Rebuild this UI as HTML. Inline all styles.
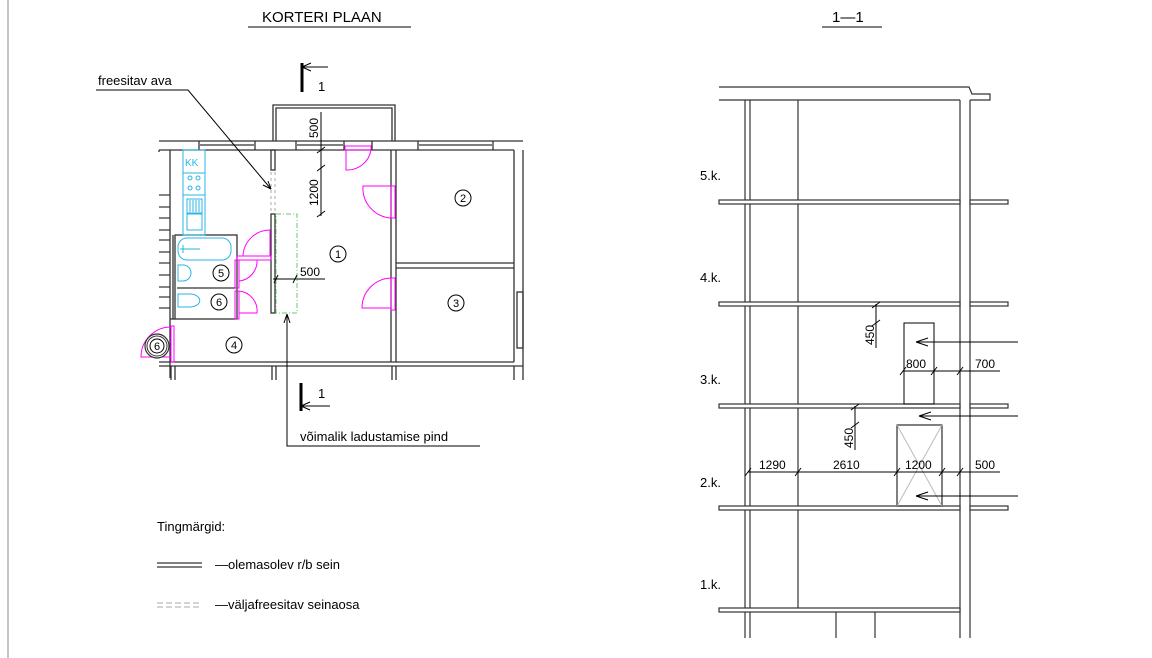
<!DOCTYPE html>
<html><head><meta charset="utf-8"><style>
html,body{margin:0;padding:0;background:#fff;}
svg{display:block;}
text{font-family:"Liberation Sans",sans-serif;fill:#000;}
</style></head><body>
<svg width="1152" height="658" viewBox="0 0 1152 658" xmlns="http://www.w3.org/2000/svg">
<rect width="1152" height="658" fill="#fff"/>
<line x1="8" y1="0" x2="8" y2="658" stroke="#888" stroke-width="1"/>

<!-- titles -->
<text x="262" y="22" font-size="15">KORTERI PLAAN</text>
<line x1="248" y1="27" x2="411" y2="27" stroke="#000"/>
<text x="832" y="22" font-size="15">1—1</text>
<line x1="822" y1="27" x2="882" y2="27" stroke="#000"/>

<!-- PLAN -->
<g stroke="#333" fill="none" stroke-width="1.3">
<path d="M273 141 V105 H395 V141"/><path d="M276 141 V108 H392 V141"/>
<line x1="159" y1="141" x2="523" y2="141"/>
<line x1="159" y1="150" x2="514" y2="150"/>
<line x1="199" y1="141" x2="199" y2="150"/><line x1="255" y1="141" x2="255" y2="150"/>
<line x1="296" y1="141" x2="296" y2="150"/><line x1="344" y1="141" x2="344" y2="150"/>
<line x1="372" y1="141" x2="372" y2="150"/><line x1="418" y1="141" x2="418" y2="150"/>
<line x1="493" y1="141" x2="493" y2="150"/>
<line x1="200" y1="145" x2="254" y2="145"/><line x1="297" y1="145" x2="343" y2="145"/><line x1="419" y1="145" x2="492" y2="145"/>
<line x1="170" y1="150" x2="170" y2="378"/>
<line x1="159" y1="150" x2="159" y2="152"/>
<line x1="159" y1="362" x2="514" y2="362"/>
<line x1="159" y1="366" x2="523" y2="366"/>
<line x1="171" y1="366" x2="171" y2="380"/><line x1="175" y1="366" x2="175" y2="380"/>
<line x1="272" y1="366" x2="272" y2="380"/><line x1="276" y1="366" x2="276" y2="380"/>
<line x1="392" y1="366" x2="392" y2="380"/><line x1="396" y1="366" x2="396" y2="380"/>
<line x1="514" y1="366" x2="514" y2="380"/><line x1="523" y1="150" x2="523" y2="380"/>
<line x1="391" y1="150" x2="391" y2="362"/><line x1="396" y1="150" x2="396" y2="362"/>
<line x1="514" y1="150" x2="514" y2="362"/>
<line x1="396" y1="263" x2="514" y2="263"/><line x1="396" y1="268" x2="514" y2="268"/>
<rect x="517" y="292" width="6" height="56"/>
<rect x="271" y="150" width="4" height="20"/>
<rect x="271" y="214" width="4" height="99"/>
<rect x="175" y="235" width="62" height="84"/>
<line x1="177" y1="288" x2="236" y2="288"/>
<line x1="170" y1="319" x2="175" y2="319"/>
<line x1="173" y1="235" x2="173" y2="319"/>
</g>
<g stroke="#333" stroke-width="1.2">
<line x1="159" y1="195" x2="170" y2="195"/><line x1="159" y1="207" x2="170" y2="207"/>
<line x1="159" y1="218" x2="170" y2="218"/><line x1="159" y1="230" x2="170" y2="230"/>
<line x1="159" y1="240" x2="170" y2="240"/><line x1="159" y1="252" x2="170" y2="252"/>
<line x1="159" y1="263" x2="170" y2="263"/><line x1="159" y1="275" x2="170" y2="275"/>
<line x1="159" y1="287" x2="170" y2="287"/><line x1="159" y1="297" x2="170" y2="297"/>
<line x1="159" y1="308" x2="170" y2="308"/>
</g>
<g stroke="#aaa" stroke-width="1" stroke-dasharray="3,3">
<line x1="271" y1="172" x2="271" y2="212"/><line x1="275" y1="172" x2="275" y2="212"/>
</g>
<rect x="276" y="214" width="21" height="99" fill="none" stroke="#6c6" stroke-width="1" stroke-dasharray="5,2,1,2"/>
<g stroke="#29b6e6" fill="none" stroke-width="1">
<rect x="183" y="150" width="22" height="85"/>
<line x1="183" y1="173" x2="205" y2="173"/><line x1="183" y1="195" x2="205" y2="195"/>
<circle cx="190" cy="178" r="2"/><circle cx="198" cy="178" r="2"/>
<circle cx="190" cy="188" r="2"/><circle cx="198" cy="188" r="2"/>
<rect x="187" y="199" width="15" height="14"/><rect x="187" y="214" width="15" height="16"/>
<line x1="190" y1="200" x2="190" y2="212"/><line x1="193" y1="200" x2="193" y2="212"/><line x1="196" y1="200" x2="196" y2="212"/><line x1="199" y1="200" x2="199" y2="212"/>
<rect x="178" y="238" width="53" height="22" rx="9"/>
<line x1="180" y1="249" x2="200" y2="249"/><line x1="183" y1="245" x2="183" y2="253"/>
<path d="M178 265 h5 a8 8 0 0 1 0 16 h-5 z"/>
<path d="M178 294 h12 a9 6 0 0 1 0 13 h-12 z"/>
</g>
<text x="185" y="166" font-size="10" style="fill:#29b6e6">KK</text>
<g stroke="#f0f" fill="none" stroke-width="1">
<rect x="345" y="146" width="26" height="4"/><path d="M346 150 V170 A24 24 0 0 0 371 150"/>
<rect x="391" y="186" width="4" height="32"/><path d="M391 186 H363 A30 30 0 0 0 391 218"/>
<rect x="391" y="278" width="4" height="32"/><path d="M391 278 A30 30 0 0 0 362 308 H391"/>
<rect x="237" y="256" width="34" height="4"/><path d="M270 256 V230 A27 27 0 0 0 243 256"/>
<rect x="235" y="260" width="4" height="28"/><path d="M239 260 H257 A20 20 0 0 1 239 281"/>
<rect x="235" y="291" width="4" height="28"/><path d="M239 291 A20 20 0 0 1 257 313 H239"/>
<rect x="171" y="326" width="3" height="36"/><path d="M171 327 A30 30 0 0 0 141 357 H171"/>
</g>
<circle cx="157" cy="346" r="12" fill="#fff" stroke="#333" stroke-width="1.2"/>
<circle cx="157" cy="346" r="10" fill="none" stroke="#333" stroke-width="1"/>
<g fill="none" stroke="#000" stroke-width="1">
<circle cx="338" cy="254" r="8"/><circle cx="463" cy="198" r="8"/><circle cx="456" cy="303" r="8"/>
<circle cx="234" cy="345" r="8"/><circle cx="221" cy="273" r="8"/><circle cx="219" cy="302" r="8"/>
<circle cx="157" cy="346" r="7"/>
</g>
<g font-size="11" text-anchor="middle">
<text x="338" y="258">1</text><text x="463" y="202">2</text><text x="456" y="307">3</text>
<text x="234" y="349">4</text><text x="221" y="277">5</text><text x="219" y="306">6</text><text x="157" y="350">6</text>
</g>
<g stroke="#000" stroke-width="1" fill="none">
<line x1="321" y1="112" x2="321" y2="216"/>
<line x1="317" y1="153" x2="325" y2="147"/><line x1="317" y1="171" x2="325" y2="165"/><line x1="317" y1="217" x2="325" y2="211"/>
<line x1="273" y1="279" x2="325" y2="279"/>
<line x1="274" y1="283" x2="278" y2="275"/><line x1="293" y1="283" x2="297" y2="275"/>
</g>
<text transform="translate(318,138) rotate(-90)" font-size="12">500</text>
<text transform="translate(318,206) rotate(-90)" font-size="12">1200</text>
<text x="300" y="276" font-size="12">500</text>
<g stroke="#000">
<line x1="302" y1="63" x2="302" y2="92" stroke-width="3"/>
<line x1="302" y1="67" x2="328" y2="67"/><path d="M302 67 L311 63 M302 67 L311 71" fill="none"/>
<line x1="301" y1="383" x2="301" y2="411" stroke-width="3"/>
<line x1="301" y1="406" x2="330" y2="406"/><path d="M301 406 L310 402 M301 406 L310 410" fill="none"/>
</g>
<text x="318" y="91" font-size="13">1</text>
<text x="318" y="398" font-size="13">1</text>
<text x="98" y="85" font-size="13">freesitav ava</text>
<g stroke="#000" fill="none">
<path d="M96 90 H188 L271 189"/><path d="M271 189 L263 185 M271 189 L268 181"/>
<path d="M480 446 H287 V314"/><path d="M287 314 L284 323 M287 314 L290 323"/>
</g>
<text x="300" y="441" font-size="13">võimalik ladustamise pind</text>
<text x="157" y="531" font-size="13">Tingmärgid:</text>
<line x1="157" y1="563" x2="202" y2="563" stroke="#000"/><line x1="157" y1="567" x2="202" y2="567" stroke="#000"/>
<text x="215" y="569" font-size="13">—olemasolev r/b sein</text>
<line x1="157" y1="603" x2="202" y2="603" stroke="#aaa" stroke-dasharray="6,3"/><line x1="157" y1="607" x2="202" y2="607" stroke="#aaa" stroke-dasharray="6,3"/>
<text x="215" y="609" font-size="13">—väljafreesitav seinaosa</text>

<!-- SECTION -->
<g stroke="#333" fill="none" stroke-width="1.2">
<path d="M719 87 H969 L972 94 H990 V100 H970"/><line x1="719" y1="100" x2="960" y2="100"/>
<line x1="745" y1="100" x2="745" y2="638"/><line x1="750" y1="100" x2="750" y2="638"/>
<line x1="798" y1="100" x2="798" y2="609"/>
<line x1="960" y1="100" x2="960" y2="638"/><line x1="970" y1="100" x2="970" y2="638"/>
<line x1="836" y1="612" x2="836" y2="638"/><line x1="875" y1="612" x2="875" y2="638"/>
</g>
<g stroke="#333" fill="#fff" stroke-width="1.2">
<rect x="719" y="200" width="241" height="4"/><rect x="970" y="200" width="38" height="4"/>
<rect x="719" y="302" width="241" height="4"/><rect x="970" y="302" width="38" height="4"/>
<rect x="719" y="404" width="241" height="4"/><rect x="970" y="404" width="38" height="4"/>
<rect x="719" y="506" width="241" height="4"/><rect x="970" y="506" width="38" height="4"/>
<rect x="719" y="608" width="241" height="4"/>
</g>
<g font-size="13"><text x="700" y="180">5.k.</text><text x="700" y="282">4.k.</text><text x="700" y="384">3.k.</text><text x="700" y="487">2.k.</text><text x="700" y="589">1.k.</text></g>
<g stroke="#000" fill="none" stroke-width="1">
<rect x="904" y="323" width="30" height="81"/>
<rect x="897" y="425" width="45" height="81"/>
<path d="M897 425 L942 506 M942 425 L897 506" stroke="#bbb"/>
<line x1="1018" y1="342" x2="916" y2="342"/><path d="M916 342 L928 338 M916 342 L928 346"/>
<line x1="1018" y1="416" x2="919" y2="416"/><path d="M919 416 L931 412 M919 416 L931 420"/>
<line x1="1018" y1="496" x2="916" y2="496"/><path d="M916 496 L928 492 M916 496 L928 500"/>
<line x1="903" y1="371" x2="1000" y2="371"/>
<path d="M900 375 L906 367 M931 375 L937 367 M957 375 L963 367"/>
<line x1="748" y1="472" x2="1000" y2="472"/>
<path d="M745 476 L751 468 M795 476 L801 468 M894 476 L900 468 M939 476 L945 468 M957 476 L963 468"/>
<line x1="876" y1="304" x2="876" y2="348"/><path d="M872 308 L880 302 M872 326 L880 320"/>
<line x1="855" y1="406" x2="855" y2="450"/><path d="M851 410 L859 404 M851 428 L859 422"/>
</g>
<g font-size="12">
<text x="906" y="368">800</text><text x="975" y="368">700</text>
<text x="759" y="469">1290</text><text x="833" y="469">2610</text><text x="905" y="469">1200</text><text x="975" y="469">500</text>
<text transform="translate(874,345) rotate(-90)">450</text>
<text transform="translate(853,448) rotate(-90)">450</text>
</g>
</svg>
</body></html>
